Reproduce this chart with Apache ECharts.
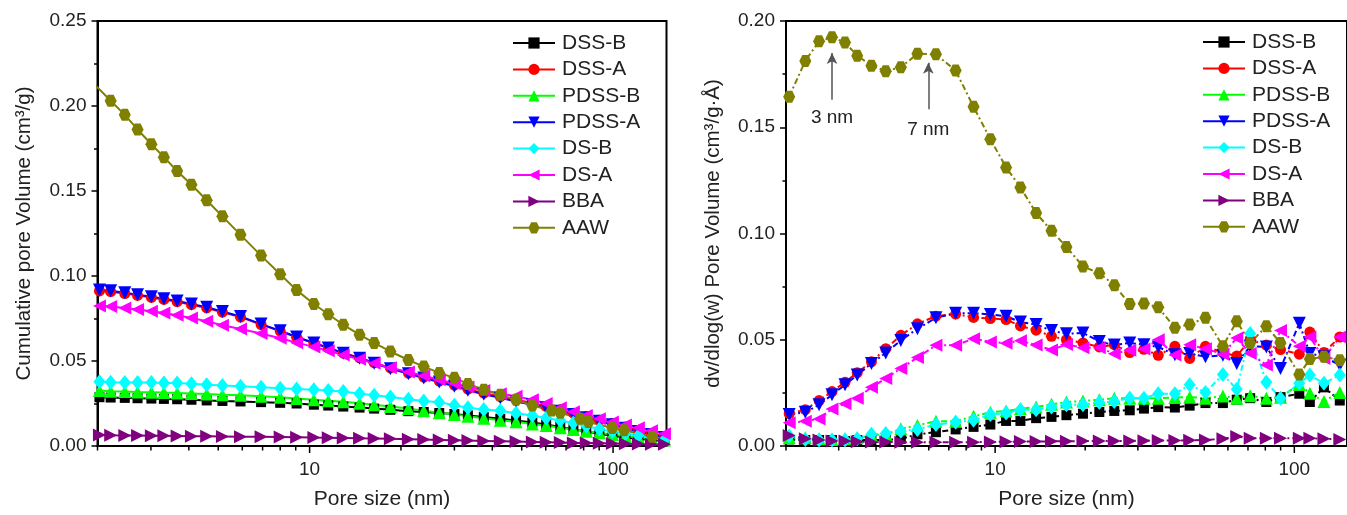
<!DOCTYPE html>
<html><head><meta charset="utf-8">
<script src="https://cdn.jsdelivr.net/npm/echarts@6/dist/echarts.min.js"></script>
<style>html,body{margin:0;padding:0;background:#fff}#c{width:1347px;height:515px}</style>
</head><body><div id="c"></div>
<script>
// ---------- DATA ----------
const seriesNames = ['DSS-B','DSS-A','PDSS-B','PDSS-A','DS-B','DS-A','BBA','AAW'];

// Left panel: cumulative pore volume (cm3/g) vs pore size (nm)
const poreSizeL = [2.03,2.21,2.46,2.71,3.01,3.31,3.66,4.08,4.58,5.16,5.92,6.92,8.00,9.06,10.33,11.52,12.91,14.61,16.32,18.46,21.16,23.78,26.74,30.0,33.24,37.5,42.5,47.9,54.2,60.2,67.0,74.0,81.6,90.1,99.5,109.8,121.2,133.8,147.7];
const cumDSSB  = [0.0287,0.0285,0.0283,0.0281,0.0279,0.0277,0.0275,0.0272,0.0268,0.0265,0.0262,0.0258,0.0254,0.0250,0.0243,0.0238,0.0232,0.0226,0.0220,0.0213,0.0205,0.0200,0.0194,0.0188,0.0180,0.0170,0.0160,0.0150,0.0138,0.0126,0.0112,0.0098,0.0085,0.0072,0.0060,0.0050,0.0042,0.0036,0.0030];
const cumDSSA  = [0.0912,0.0908,0.0897,0.0886,0.0874,0.0862,0.0849,0.0831,0.0812,0.0787,0.0758,0.0714,0.0676,0.0640,0.0606,0.0578,0.0547,0.0519,0.0490,0.0459,0.0429,0.0405,0.0382,0.0358,0.0334,0.0311,0.0291,0.0272,0.0253,0.0233,0.0213,0.0193,0.0173,0.0152,0.0132,0.0112,0.0092,0.0073,0.0055];
const cumPDSSB = [0.0326,0.0322,0.0320,0.0318,0.0316,0.0314,0.0312,0.0309,0.0306,0.0302,0.0298,0.0293,0.0287,0.0279,0.0272,0.0266,0.0260,0.0251,0.0242,0.0232,0.0220,0.0208,0.0196,0.0186,0.0175,0.0163,0.0152,0.0142,0.0130,0.0120,0.0108,0.0097,0.0087,0.0078,0.0068,0.0058,0.0050,0.0042,0.0035];
const cumPDSSA = [0.0917,0.0913,0.0901,0.0890,0.0878,0.0866,0.0853,0.0835,0.0816,0.0791,0.0762,0.0717,0.0678,0.0641,0.0606,0.0577,0.0545,0.0516,0.0487,0.0455,0.0425,0.0400,0.0376,0.0352,0.0328,0.0304,0.0283,0.0262,0.0243,0.0225,0.0205,0.0186,0.0166,0.0145,0.0125,0.0105,0.0085,0.0068,0.0050];
const cumDSB   = [0.0378,0.0375,0.0374,0.0374,0.0373,0.0371,0.0370,0.0366,0.0360,0.0356,0.0352,0.0346,0.0340,0.0336,0.0331,0.0326,0.0320,0.0308,0.0298,0.0288,0.0275,0.0265,0.0258,0.0240,0.0225,0.0215,0.0208,0.0192,0.0180,0.0165,0.0150,0.0135,0.0118,0.0100,0.0085,0.0072,0.0062,0.0050,0.0035];
const cumDSA   = [0.0824,0.0820,0.0812,0.0803,0.0793,0.0782,0.0769,0.0753,0.0734,0.0710,0.0688,0.0662,0.0634,0.0608,0.0583,0.0560,0.0535,0.0510,0.0487,0.0461,0.0436,0.0413,0.0390,0.0368,0.0347,0.0327,0.0308,0.0292,0.0272,0.0250,0.0225,0.0202,0.0180,0.0160,0.0141,0.0124,0.0107,0.0090,0.0072];
const cumBBA   = [0.0064,0.0063,0.0062,0.0062,0.0061,0.0060,0.0059,0.0058,0.0057,0.0056,0.0055,0.0054,0.0053,0.0052,0.0050,0.0049,0.0047,0.0045,0.0044,0.0042,0.0040,0.0038,0.0036,0.0034,0.0032,0.0030,0.0028,0.0026,0.0024,0.0022,0.0020,0.0018,0.0017,0.0016,0.0015,0.0013,0.0012,0.0011,0.0010];
const poreSizeAAW = [1.9,2.21,2.46,2.71,3.01,3.31,3.66,4.08,4.58,5.16,5.92,6.92,8.00,9.06,10.33,11.52,12.91,14.61,16.32,18.46,21.16,23.78,26.74,30.0,33.24,37.5,42.5,47.9,54.2,62.8,67.0,77.9,83.0,99.5,108.8,134.6,165];
const cumAAW   = [0.2150,0.2031,0.1948,0.1862,0.1775,0.1699,0.1618,0.1537,0.1446,0.1351,0.1242,0.1120,0.1010,0.0917,0.0835,0.0775,0.0713,0.0655,0.0606,0.0556,0.0506,0.0467,0.0430,0.0401,0.0365,0.0331,0.0301,0.0272,0.0238,0.0209,0.0196,0.0161,0.0141,0.0106,0.0093,0.0054,0.0018];

// Right panel: dv/dlog(w) pore volume vs pore size (nm)
const poreSizeR = [2.05,2.32,2.58,2.85,3.15,3.46,3.86,4.31,4.84,5.50,6.34,7.38,8.47,9.64,10.88,12.15,13.71,15.43,17.31,19.66,22.30,25.02,28.18,31.44,35.09,39.88,44.69,50.47,57.72,64.21,71.19,80.64,89.93,103.9,112.7,125.6,141.9];
const dvDSSB  = [0.0031,0.0028,0.0028,0.0028,0.0023,0.0028,0.0028,0.0028,0.0034,0.0055,0.0065,0.0078,0.0090,0.0101,0.0118,0.0118,0.0131,0.0137,0.0145,0.0152,0.0160,0.0165,0.0168,0.0176,0.0183,0.0181,0.0190,0.0202,0.0202,0.0218,0.0225,0.0207,0.0230,0.0246,0.0207,0.0276,0.0214];
const dvDSSA  = [0.0152,0.0171,0.0214,0.0256,0.0300,0.0345,0.0396,0.0458,0.0521,0.0575,0.0611,0.0621,0.0605,0.0600,0.0595,0.0565,0.0545,0.0516,0.0500,0.0485,0.0466,0.0477,0.0440,0.0455,0.0427,0.0469,0.0412,0.0469,0.0440,0.0423,0.0500,0.0475,0.0454,0.0432,0.0536,0.0440,0.0513];
const dvPDSSB = [0.0039,0.0039,0.0034,0.0031,0.0034,0.0039,0.0050,0.0055,0.0081,0.0097,0.0117,0.0117,0.0140,0.0159,0.0165,0.0175,0.0184,0.0196,0.0207,0.0212,0.0218,0.0225,0.0225,0.0225,0.0225,0.0228,0.0230,0.0225,0.0235,0.0225,0.0236,0.0225,0.0230,0.0290,0.0248,0.0210,0.0252];
const dvPDSSA = [0.0148,0.0159,0.0194,0.0241,0.0288,0.0334,0.0388,0.0438,0.0497,0.0552,0.0603,0.0625,0.0625,0.0619,0.0611,0.0583,0.0572,0.0543,0.0528,0.0532,0.0492,0.0475,0.0485,0.0477,0.0466,0.0430,0.0435,0.0420,0.0427,0.0388,0.0469,0.0466,0.0365,0.0578,0.0435,0.0420,0.0381];
const dvDSB   = [0.0047,0.0031,0.0028,0.0028,0.0028,0.0034,0.0055,0.0059,0.0070,0.0078,0.0101,0.0112,0.0121,0.0148,0.0155,0.0171,0.0171,0.0183,0.0194,0.0194,0.0205,0.0210,0.0225,0.0225,0.0246,0.0246,0.0288,0.0252,0.0336,0.0267,0.0530,0.0300,0.0225,0.0295,0.0334,0.0295,0.0334];
const dvDSA   = [0.0109,0.0117,0.0127,0.0174,0.0199,0.0225,0.0276,0.0318,0.0365,0.0416,0.0474,0.0474,0.0505,0.0490,0.0484,0.0495,0.0475,0.0452,0.0478,0.0462,0.0462,0.0434,0.0451,0.0457,0.0500,0.0428,0.0476,0.0458,0.0432,0.0508,0.0435,0.0381,0.0544,0.0470,0.0513,0.0412,0.0513];
const dvBBA   = [0.0050,0.0034,0.0028,0.0023,0.0023,0.0020,0.0019,0.0019,0.0018,0.0018,0.0018,0.0018,0.0018,0.0019,0.0020,0.0021,0.0021,0.0022,0.0022,0.0023,0.0023,0.0024,0.0024,0.0025,0.0026,0.0026,0.0027,0.0028,0.0034,0.0045,0.0037,0.0037,0.0037,0.0037,0.0036,0.0034,0.0031];
const dvAAW   = [0.1644,0.1812,0.1905,0.1924,0.1899,0.1837,0.1790,0.1764,0.1782,0.1846,0.1843,0.1767,0.1596,0.1444,0.1311,0.1217,0.1096,0.1013,0.0937,0.0845,0.0813,0.0757,0.0668,0.0671,0.0653,0.0556,0.0572,0.0603,0.0469,0.0587,0.0485,0.0564,0.0485,0.0336,0.0409,0.0420,0.0404];

// Axis ticks / annotations
const xRange = [2, 150];
const xMajorTicks = [10, 100];
const xMinorTicks = [2,3,4,5,6,7,8,9,20,30,40,50,60,70,80,90];
const yMaxL = 0.25, yMaxR = 0.20, yStep = 0.05;
const peakLabels = ['3 nm', '7 nm'];
const peakX = [2.85, 5.98];
const peakArrowFrom = [0.163, 0.1585];
const peakArrowTo = [0.185, 0.1803];

// ---------- STYLE ----------
const FONT = 'Liberation Sans, Arial, sans-serif';
const TXT = '#222';
const HEX = 'path://M2.5,0 L7.5,0 L10,4.33 L7.5,8.66 L2.5,8.66 L0,4.33 Z';
const sty = {
  'DSS-B':  {c:'#000000', s:'rect', z:10, r:0},
  'DSS-A':  {c:'#ff0000', s:'circle', z:11, r:0},
  'PDSS-B': {c:'#00ff00', s:'triangle', z:13, r:0},
  'PDSS-A': {c:'#0000ff', s:'triangle', z:13, r:180},
  'DS-B':   {c:'#00ffff', s:'diamond', z:[12,15], r:0},
  'DS-A':   {c:'#ff00ff', s:'triangle', z:13, r:90},
  'BBA':    {c:'#800080', s:'triangle', z:13, r:-90},
  'AAW':    {c:'#808000', s:HEX, z:12, r:0}
};

function mk(name, xs, ys, gi, dashed) {
  const st = sty[name];
  return {
    name, type:'line', xAxisIndex:gi, yAxisIndex:gi,
    data: xs.map((x,i)=>[x, ys[i]]),
    symbol: st.s, symbolSize: st.z, symbolRotate: st.r, showAllSymbol:true,
    itemStyle:{color:st.c},
    lineStyle:{color:st.c, width:2, type: dashed ? [6,3,2,3] : 'solid'},
    emphasis:{disabled:true}, clip:true
  };
}

const leftSets  = [[poreSizeL,cumDSSB],[poreSizeL,cumDSSA],[poreSizeL,cumPDSSB],[poreSizeL,cumPDSSA],[poreSizeL,cumDSB],[poreSizeL,cumDSA],[poreSizeL,cumBBA],[poreSizeAAW,cumAAW]];
const rightSets = [dvDSSB,dvDSSA,dvPDSSB,dvPDSSA,dvDSB,dvDSA,dvBBA,dvAAW];

const series = [];
seriesNames.forEach((n,i)=>series.push(mk(n, leftSets[i][0], leftSets[i][1], 0, false)));
seriesNames.forEach((n,i)=>series.push(mk(n, poreSizeR, rightSets[i], 1, true)));
// annotations on AAW (right)
const aawR = series[series.length-1];
aawR.markLine = {
  silent:true, animation:false, symbol:['none','arrow'], symbolSize:[8,11],
  lineStyle:{color:'#555', width:1.5, type:'solid'},
  label:{show:true, position:'start', formatter:'{b}', fontSize:19, color:TXT, fontFamily:FONT, distance:9},
  data: peakLabels.map((t,i)=>[{coord:[peakX[i], peakArrowFrom[i]], name:t, label:{distance: i===0?9:11}}, {coord:[peakX[i], peakArrowTo[i]]}])
};

function xAxisCfg(gi) {
  return {
    type:'log', logBase:10, gridIndex:gi, min:xRange[0], max:xRange[1],
    name:'Pore size (nm)', nameLocation:'middle', nameGap:43,
    nameTextStyle:{fontSize:21, color:TXT, fontFamily:FONT},
    axisLine:{lineStyle:{color:'#000', width:2}},
    axisTick:{show:false}, splitLine:{show:false}, minorTick:{show:false},
    axisLabel:{fontSize:19, color:TXT, fontFamily:FONT, margin:14, showMinLabel:false, showMaxLabel:false,
      formatter: v => xMajorTicks.some(t=>Math.abs(t-v)<1e-6) ? String(v) : ''}
  };
}
function yAxisCfg(gi, max, name, gap) {
  return {
    type:'value', gridIndex:gi, min:0, max:max, interval:yStep,
    name, nameLocation:'middle', nameGap:gap,
    nameTextStyle:{fontSize:20.5, color:TXT, fontFamily:FONT},
    axisLine:{show:true, lineStyle:{color:'#000', width:2}},
    axisTick:{show:true, length:6, lineStyle:{color:'#000', width:1.5}},
    minorTick:{show:true, splitNumber:2, length:3.5, lineStyle:{color:'#000', width:1.5}},
    splitLine:{show:false}, minorSplitLine:{show:false},
    axisLabel:{fontSize:19, color:TXT, fontFamily:FONT, margin:11, formatter: v => v.toFixed(2)}
  };
}
function legendCfg(left, top) {
  return {
    data: seriesNames, orient:'vertical', left, top, padding:0,
    itemWidth:42, itemHeight:14, itemGap:5.4,
    lineStyle:{type:'solid', width:2},
    textStyle:{fontSize:21, color:TXT, fontFamily:FONT, lineHeight:21, padding:[0,0,0,2]},
    selectedMode:false
  };
}

const option = {
  animation:false, backgroundColor:'#fff',
  grid:[
    {left:97.5, top:21, width:569, height:430, show:true, borderColor:'#000', borderWidth:2, containLabel:false},
    {left:786, top:21, width:568, height:430, show:true, borderColor:'#000', borderWidth:2, containLabel:false}
  ],
  xAxis:[xAxisCfg(0), xAxisCfg(1)],
  yAxis:[yAxisCfg(0, yMaxL, 'Cumulative pore Volume (cm³/g)', 63), yAxisCfg(1, yMaxR, 'dv/dlog(w) Pore Volume (cm³/g·Å)', 62)],
  legend:[legendCfg(512, 32.5), legendCfg(1202, 31.5)],
  series
};

const chart = echarts.init(document.getElementById('c'), null, {renderer:'canvas'});
chart.setOption(option);

// log-axis ticks (major at decades, minor at 2..9 multiples), placed through the axis scale
const g = [];
[0,1].forEach(gi=>{
  const y0 = chart.convertToPixel({yAxisIndex:gi}, 0);
  const all = xMinorTicks.map(v=>[v,false]).concat(xMajorTicks.map(v=>[v,true]));
  all.forEach(([v,maj])=>{
    if (v < xRange[0] || v > xRange[1]) return;
    const x = chart.convertToPixel({xAxisIndex:gi}, v);
    g.push({type:'line', silent:true, z:100, shape:{x1:x, y1:y0, x2:x, y2:y0 + (maj?7:4.5)}, style:{stroke:'#000', lineWidth:1.5}});
  });
});
chart.setOption({graphic:g});
</script></body></html>
